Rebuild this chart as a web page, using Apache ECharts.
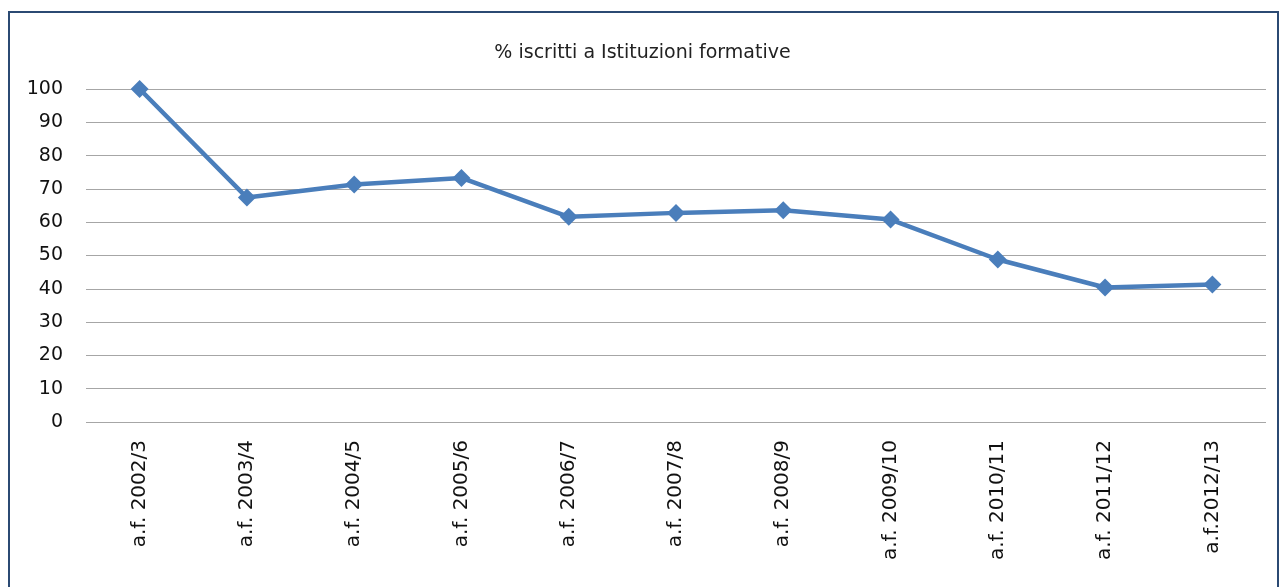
<!DOCTYPE html>
<html>
<head>
<meta charset="utf-8">
<script src="https://cdn.jsdelivr.net/npm/echarts@6/dist/echarts.min.js"></script>
<style>
  html, body { margin: 0; padding: 0; background: #fff; }
  #chart { width: 1285px; height: 587px; }
</style>
</head>
<body>
<div id="chart"></div>
<script>
// anni formativi
const categories = [
  "a.f. 2002/3", "a.f. 2003/4", "a.f. 2004/5", "a.f. 2005/6", "a.f. 2006/7",
  "a.f. 2007/8", "a.f. 2008/9", "a.f. 2009/10", "a.f. 2010/11", "a.f. 2011/12",
  "a.f.2012/13"
];
// % iscritti (2002/3 = 100)
const values = [100, 67.4, 71.3, 73.3, 61.6, 62.8, 63.6, 60.8, 48.8, 40.4, 41.3];

const myChart = echarts.init(document.getElementById("chart"));
const option = {
  animation: false,
  backgroundColor: "#fff",
  textStyle: { fontFamily: "DejaVu Sans, sans-serif" },
  title: {
    text: "% iscritti a Istituzioni formative",
    left: "center",
    top: 39,
    textStyle: { fontSize: 19, fontWeight: "normal", color: "#222" }
  },
  graphic: [{
    type: "rect",
    shape: { x: 9, y: 12, width: 1269, height: 600 },
    style: { fill: "none", stroke: "#2b4a73", lineWidth: 2 },
    silent: true
  }],
  grid: { left: 86, right: 19, top: 89, bottom: 165 },
  xAxis: {
    type: "category",
    data: categories,
    boundaryGap: true,
    axisLine: { show: false },
    axisTick: { show: false },
    axisLabel: { rotate: 90, margin: 18, fontSize: 20, color: "#111" }
  },
  yAxis: {
    type: "value",
    min: 0,
    max: 100,
    interval: 10,
    axisLine: { show: false },
    axisTick: { show: false },
    axisLabel: { fontSize: 19, color: "#111", margin: 23 },
    splitLine: { lineStyle: { color: "#a6a6a6", width: 1 } }
  },
  series: [{
    type: "line",
    data: values,
    symbol: "diamond",
    symbolSize: 18,
    lineStyle: { color: "#4a7ebb", width: 4.5 },
    itemStyle: { color: "#4a7ebb" }
  }]
};
myChart.setOption(option);
</script>
</body>
</html>
